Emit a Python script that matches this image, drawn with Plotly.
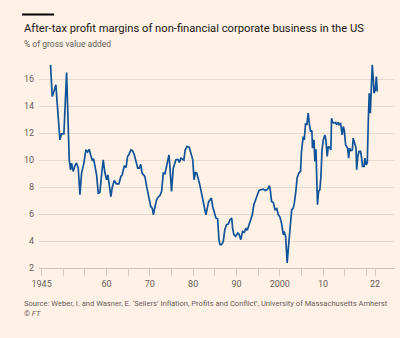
import plotly.graph_objects as go

# After-tax profit margins, % of gross value added (decimal year, value)
years = [
    1947.07, 1947.45, 1947.84, 1948.3, 1948.7, 1949.23, 1949.6, 1950.15, 1950.77, 1951.38,
    1951.69, 1951.92, 1952.3, 1952.7, 1953.07, 1953.46, 1953.85, 1954.23, 1954.77, 1955.23,
    1955.62, 1956.0, 1956.3, 1956.7, 1957.0, 1957.3, 1957.7, 1958.08, 1958.46, 1958.85,
    1959.23, 1959.6, 1960.0, 1960.3, 1960.6, 1961.0, 1961.3, 1961.77, 1962.3, 1962.85,
    1963.3, 1963.6, 1964.1, 1964.5, 1964.85, 1965.15, 1965.6, 1966.0, 1966.4, 1966.8,
    1967.2, 1967.55, 1967.9, 1968.2, 1968.85, 1969.25, 1969.8, 1970.2, 1970.55, 1970.8,
    1971.2, 1971.55, 1971.9, 1972.3, 1972.7, 1973.1, 1973.5, 1973.85, 1974.4, 1974.6,
    1975.0, 1975.4, 1975.55, 1976.0, 1976.5, 1976.8, 1977.2, 1977.55, 1977.85, 1978.15,
    1978.6, 1979.1, 1979.4, 1979.9, 1980.2, 1980.5, 1980.8, 1981.2, 1981.4, 1981.7,
    1982.1, 1982.3, 1982.7, 1982.95, 1983.25, 1983.55, 1983.9, 1984.2, 1984.5, 1984.85,
    1985.25, 1985.65, 1985.95, 1986.2, 1986.55, 1986.95, 1987.3, 1987.7, 1988.1, 1988.5,
    1988.9, 1989.1, 1989.4, 1989.8, 1990.3, 1990.6, 1991.0, 1991.4, 1991.8, 1992.2,
    1992.5, 1992.9, 1993.3, 1993.65, 1994.0, 1994.4, 1994.8, 1995.2, 1995.6, 1996.2,
    1996.6, 1997.0, 1997.35, 1997.6, 1997.8, 1998.1, 1998.5, 1998.9, 1999.3, 1999.65,
    2000.0, 2000.4, 2000.8, 2001.0, 2001.35, 2001.6, 2001.7, 2001.95, 2002.35, 2002.75,
    2003.1, 2003.35, 2003.7, 2004.0, 2004.4, 2004.8, 2005.0, 2005.2, 2005.4, 2005.65,
    2005.95, 2006.25, 2006.55, 2006.8, 2007.1, 2007.4, 2007.55, 2007.9, 2008.1, 2008.35,
    2008.5, 2008.7, 2008.95, 2009.25, 2009.5, 2009.75, 2010.05, 2010.4, 2010.65, 2010.95,
    2011.2, 2011.6, 2011.8, 2011.95, 2012.2, 2012.5, 2012.9, 2013.1, 2013.5, 2013.7,
    2014.05, 2014.4, 2014.65, 2014.9, 2015.2, 2015.45, 2015.65, 2015.9, 2016.1, 2016.4,
    2016.75, 2016.95, 2017.2, 2017.45, 2017.6, 2017.75, 2018.0, 2018.3, 2018.65, 2018.9,
    2019.1, 2019.45, 2019.65, 2019.9, 2020.2, 2020.45, 2020.65, 2020.9, 2021.1, 2021.35,
    2021.6, 2021.75, 2022.05, 2022.3, 2022.5,
]
margin = [
    17.06, 14.71, 15.08, 15.58, 13.8, 11.5, 11.95, 11.95, 16.49, 10.02,
    9.28, 9.78, 9.16, 9.6, 9.78, 9.4, 7.43, 9.04, 9.78, 10.76,
    10.6, 10.8, 10.4, 10.0, 10.1, 9.6, 8.9, 7.55, 7.6, 8.9,
    10.02, 9.1, 8.54, 8.9, 8.05, 7.3, 7.95, 8.49, 8.24, 8.24,
    8.79, 8.9, 9.58, 9.45, 10.27, 10.4, 10.76, 10.7, 10.4, 9.78,
    9.4, 9.4, 9.68, 9.04, 8.79, 8.05, 7.19, 6.56, 6.44, 5.95,
    6.56, 7.06, 7.25, 7.36, 7.65, 9.04, 9.0, 9.53, 10.39, 9.65,
    7.67, 9.4, 9.53, 10.02, 10.05, 9.83, 10.15, 10.1, 10.0, 10.76,
    11.0, 10.95, 10.64, 10.02, 8.54, 9.08, 9.05, 8.41, 8.35, 7.9,
    7.06, 6.95, 6.32, 5.95, 6.44, 6.88, 7.06, 7.18, 6.56, 6.2,
    5.7, 5.65, 4.1, 3.73, 3.73, 3.97, 4.84, 5.21, 5.25, 5.58,
    5.7, 4.96, 4.47, 4.34, 4.59, 4.5, 4.1, 4.71, 4.65, 4.96,
    4.8, 5.21, 5.58, 5.95, 6.69, 7.06, 7.43, 7.75, 7.8, 7.85,
    7.75, 7.8, 7.93, 8.1, 7.8, 6.93, 6.85, 6.32, 6.4, 5.95,
    5.8, 5.33, 4.47, 4.7, 4.34, 3.36, 2.37, 3.36, 5.08, 6.32,
    6.44, 6.81, 7.67, 8.67, 9.04, 9.16, 10.6, 11.5, 11.75, 11.5,
    12.74, 12.6, 13.48, 12.74, 12.12, 12.2, 10.89, 11.5, 9.9, 10.8,
    9.28, 6.69, 7.67, 7.8, 8.79, 10.76, 11.5, 11.87, 11.5, 10.27,
    11.01, 10.9, 10.76, 13.11, 12.8, 12.74, 12.8, 12.62, 12.8, 12.62,
    12.7, 11.87, 12.49, 12.2, 11.13, 11.0, 10.9, 10.15, 10.89, 10.7,
    10.76, 11.63, 11.4, 11.01, 10.9, 9.28, 10.27, 10.64, 10.64, 10.15,
    9.53, 9.53, 10.15, 9.65, 9.78, 13.11, 14.96, 13.48, 15.7, 17.06,
    15.95, 14.96, 15.2, 16.2, 15.08,
]

# Axis ticks: marks every five years, labels on selected years
x_tickvals = [1945, 1950, 1955, 1960, 1965, 1970, 1975, 1980, 1985, 1990,
              1995, 2000, 2005, 2010, 2015, 2020, 2022]
x_ticktext = ["1945", "", "", "60", "", "70", "", "80", "", "90",
              "", "2000", "", "10", "", "", "22"]
y_tickvals = [2, 4, 6, 8, 10, 12, 14, 16]

title = "After-tax profit margins of non-financial corporate business in the US"
subtitle = "% of gross value added"
source = ("Source: Weber, I. and Wasner, E. ‘Sellers’ Inflation, Profits and Conflict’, "
          "University of Massachusetts Amherst")

BG = "#fff1e5"
GRID = "#e6d9ce"
GREY = "#66605c"
FONT = "Roboto"

fig = go.Figure(go.Scatter(
    x=years, y=margin, mode="lines",
    line=dict(color="#0f5499", width=1.7),
    hoverinfo="skip",
))

fig.update_layout(
    width=400, height=338,
    paper_bgcolor=BG, plot_bgcolor=BG,
    margin=dict(l=39, r=5, t=63, b=70),
    showlegend=False,
    font=dict(family=FONT, color=GREY, size=9),
    xaxis=dict(
        range=[1944.4, 2026.6], tickmode="array",
        tickvals=x_tickvals, ticktext=x_ticktext,
        ticks="outside", ticklen=7, tickcolor="#d6cbc1", tickwidth=1,
        showline=True, linecolor="#cfc4ba", linewidth=1,
        showgrid=False, zeroline=False,
        tickfont=dict(size=9, color=GREY),
    ),
    yaxis=dict(
        range=[2, 17.2], tickmode="array", tickvals=y_tickvals,
        showgrid=True, gridcolor=GRID, gridwidth=1,
        zeroline=False, showline=False, ticks="",
        tickfont=dict(size=9, color=GREY),
        ticklabelstandoff=4,
    ),
    shapes=[dict(
        type="rect", xref="paper", yref="paper",
        x0=-17 / 356, x1=15 / 356, y0=1 + (63 - 15.5) / 205, y1=1 + (63 - 13.5) / 205,
        fillcolor="#000000", line=dict(width=0),
    )],
    annotations=[
        dict(text=title, xref="paper", yref="paper", x=-17 / 356, y=1 + (63 - 19.5) / 205,
             xanchor="left", yanchor="top", showarrow=False,
             font=dict(family=FONT, size=11.2, color="#1a1817")),
        dict(text=subtitle, xref="paper", yref="paper", x=-17 / 356, y=1 + (63 - 37.5) / 205,
             xanchor="left", yanchor="top", showarrow=False,
             font=dict(family=FONT, size=8.5, color=GREY)),
        dict(text=source + "<br>© <i>FT</i>", xref="paper", yref="paper",
             x=-17 / 356, y=-(297 - 268) / 205,
             xanchor="left", yanchor="top", showarrow=False, align="left",
             font=dict(family=FONT, size=7.6, color=GREY)),
    ],
)

fig.write_html("out.html")
